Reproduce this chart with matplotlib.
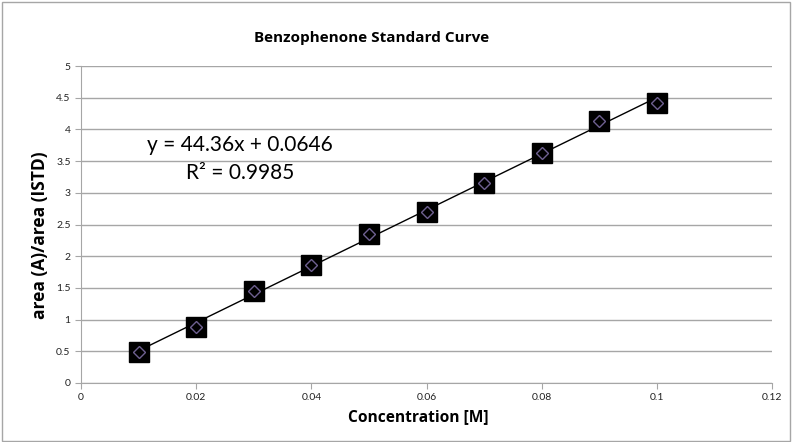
import numpy as np
import matplotlib.pyplot as plt
from matplotlib.patches import Rectangle

conc = [0.01, 0.02, 0.03, 0.04, 0.05, 0.06, 0.07, 0.08, 0.09, 0.10]
ratio = [0.49, 0.88, 1.45, 1.86, 2.35, 2.70, 3.15, 3.63, 4.13, 4.42]
eq_text = 'y = 44.36x + 0.0646'
r2_text = 'R² = 0.9985'

plt.rcParams['font.family'] = ['Lato', 'DejaVu Sans']
bold_font = ['Open Sans', 'DejaVu Sans']

fig = plt.figure(figsize=(7.92, 4.42), dpi=100)
ax = fig.add_axes([81 / 792, 1 - 383 / 442, (772 - 81) / 792, (383 - 66) / 442])

# outer chart frame
fig.patches.append(Rectangle((0.002, 0.003), 0.995, 0.993, transform=fig.transFigure,
                             fill=False, edgecolor='#a6a6a6', linewidth=1))

# linear trendline
slope, intercept = np.polyfit(conc, ratio, 1)
xs = np.array([conc[0], conc[-1]])
ax.plot(xs, slope * xs + intercept, color='black', linewidth=1, zorder=2)

ax.plot(conc, ratio, linestyle='none', marker='s', markersize=14.5,
        markerfacecolor='black', markeredgecolor='black', zorder=3)
ax.plot(conc, ratio, linestyle='none', marker='D', markersize=6,
        markerfacecolor='none', markeredgecolor='#6e6090', markeredgewidth=1, zorder=4)

ax.set_xlim(0, 0.12)
ax.set_ylim(0, 5)
ax.set_xticks([0, 0.02, 0.04, 0.06, 0.08, 0.1, 0.12])
ax.set_xticklabels(['0', '0.02', '0.04', '0.06', '0.08', '0.1', '0.12'])
ax.set_yticks(np.arange(0, 5.01, 0.5))
ax.set_yticklabels(['0', '0.5', '1', '1.5', '2', '2.5', '3', '3.5', '4', '4.5', '5'])
ax.grid(axis='y', color='#a6a6a6', linewidth=1)
ax.set_axisbelow(True)
for s in ['top', 'right']:
    ax.spines[s].set_visible(False)
for s in ['left', 'bottom']:
    ax.spines[s].set_color('#a6a6a6')
ax.tick_params(axis='both', colors='#a6a6a6', labelcolor='#222222', labelsize=7.5, length=4)

ax.set_xlabel('Concentration [M]', fontsize=11.2, fontweight='bold', family=bold_font)
ax.set_ylabel('area (A)/area (ISTD)', fontsize=12.5, fontweight='bold', family=bold_font)
ax.xaxis.set_label_coords((418 - 81) / 691, -(409 - 383) / 317)
ax.yaxis.set_label_coords(-(81 - 49) / 691, (383 - 235) / 317)
fig.text(372 / 792, 1 - 38 / 442, 'Benzophenone Standard Curve',
         ha='center', va='center', fontsize=11, fontweight='bold', family=bold_font)

ax.text(0.0276, 3.75, eq_text, ha='center', va='center', fontsize=15)
ax.text(0.0276, 3.31, r2_text, ha='center', va='center', fontsize=15)

fig.savefig('out.png', dpi=100)
